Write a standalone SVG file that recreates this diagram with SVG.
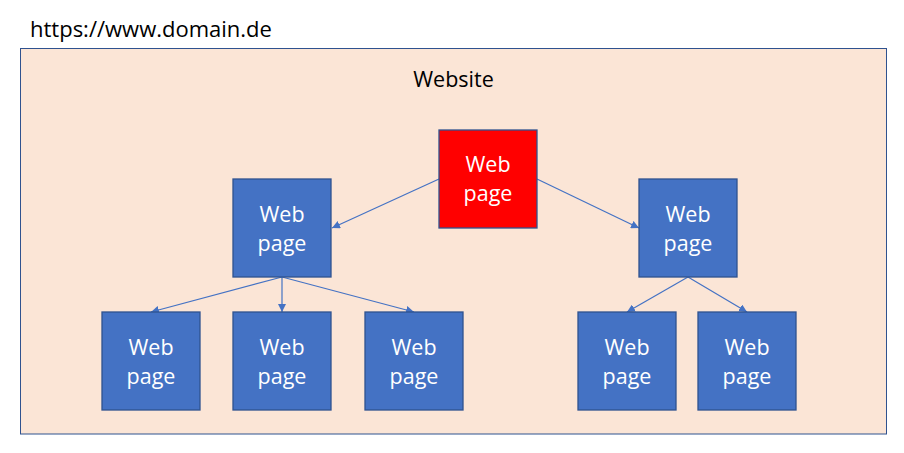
<svg xmlns="http://www.w3.org/2000/svg" width="904" height="453" viewBox="0 0 904 453">
<style>
.page{fill:#4472C4;stroke:#2F528F;stroke-width:1.3}
.root{fill:#FF0000;stroke:#2F528F;stroke-width:1.3}
.lbl{font-family:"Open Sans","Liberation Sans",sans-serif;font-size:21.5px;fill:#FFFFFF;text-anchor:middle}
.title{font-family:"Open Sans","Liberation Sans",sans-serif;font-size:21.5px;fill:#000000}
.conn{stroke:#4472C4;stroke-width:1.2;fill:none;marker-end:url(#arr)}
</style>
<defs>
<marker id="arr" viewBox="0 0 10 10" refX="10" refY="5" markerWidth="8" markerHeight="8" markerUnits="userSpaceOnUse" orient="auto">
<path d="M0,0 L10,5 L0,10 z" fill="#4472C4"/>
</marker>
</defs>
<rect width="904" height="453" fill="#FFFFFF"/>
<text class="title" x="30" y="37" style="font-size:22px">https://www.domain.de</text>
<g id="website">
<rect x="20.5" y="48.5" width="866" height="385.5" fill="#FBE5D6" stroke="#2F528F" stroke-width="1"/>
<text class="title" x="453.5" y="87" text-anchor="middle">Website</text>
</g>
<g id="connectors">
<line class="conn" x1="439" y1="179" x2="332" y2="228"/>
<line class="conn" x1="537" y1="179" x2="639" y2="228"/>
<line class="conn" x1="282" y1="277" x2="151" y2="312"/>
<line class="conn" x1="282" y1="277" x2="282" y2="312"/>
<line class="conn" x1="282" y1="277" x2="414" y2="312"/>
<line class="conn" x1="688" y1="277" x2="627" y2="312"/>
<line class="conn" x1="688" y1="277" x2="747" y2="312"/>
</g>
<g id="root">
<rect class="root" x="439" y="130" width="98" height="98"/>
<text class="lbl" x="488" y="172">Web</text>
<text class="lbl" x="488" y="201">page</text>
</g>
<g id="mid-left">
<rect class="page" x="233" y="179" width="98" height="98"/>
<text class="lbl" x="282" y="221.5">Web</text>
<text class="lbl" x="282" y="250.5">page</text>
</g>
<g id="mid-right">
<rect class="page" x="639" y="179" width="98" height="98"/>
<text class="lbl" x="688" y="221.5">Web</text>
<text class="lbl" x="688" y="250.5">page</text>
</g>
<g id="leaf-1">
<rect class="page" x="102" y="312" width="98" height="98"/>
<text class="lbl" x="151" y="354.5">Web</text>
<text class="lbl" x="151" y="383.5">page</text>
</g>
<g id="leaf-2">
<rect class="page" x="233" y="312" width="98" height="98"/>
<text class="lbl" x="282" y="354.5">Web</text>
<text class="lbl" x="282" y="383.5">page</text>
</g>
<g id="leaf-3">
<rect class="page" x="365" y="312" width="98" height="98"/>
<text class="lbl" x="414" y="354.5">Web</text>
<text class="lbl" x="414" y="383.5">page</text>
</g>
<g id="leaf-4">
<rect class="page" x="578" y="312" width="98" height="98"/>
<text class="lbl" x="627" y="354.5">Web</text>
<text class="lbl" x="627" y="383.5">page</text>
</g>
<g id="leaf-5">
<rect class="page" x="698" y="312" width="98" height="98"/>
<text class="lbl" x="747" y="354.5">Web</text>
<text class="lbl" x="747" y="383.5">page</text>
</g>
</svg>
